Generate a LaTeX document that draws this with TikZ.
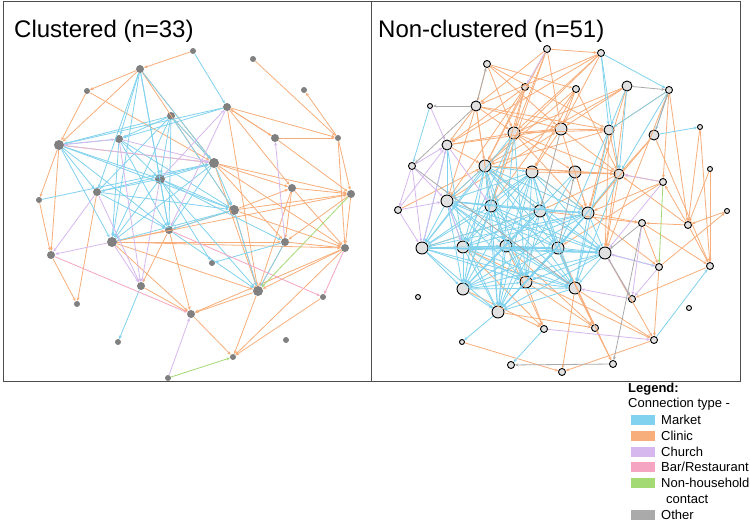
\documentclass[tikz,border=0pt]{standalone}
\usepackage{fontspec}
\setmainfont{Liberation Sans}
\usetikzlibrary{arrows.meta}
\definecolor{cmk}{RGB}{128,210,238}
\definecolor{ccl}{RGB}{248,174,122}
\definecolor{cch}{RGB}{214,184,238}
\definecolor{cbr}{RGB}{245,165,194}
\definecolor{cnh}{RGB}{164,218,116}
\definecolor{cot}{RGB}{170,170,170}
\definecolor{ngray}{RGB}{128,128,128}
\definecolor{nlight}{RGB}{225,225,225}
\tikzset{
  edge/.style={line width=0.8pt,-{Stealth[length=3.5pt,width=3pt]}},
  mk/.style={edge,draw=cmk},
  cl/.style={edge,draw=ccl},
  ch/.style={edge,draw=cch},
  br/.style={edge,draw=cbr},
  nh/.style={edge,draw=cnh},
  ot/.style={edge,draw=cot},
  lnode/.style={circle,fill=ngray,inner sep=0pt,minimum size=#1},
  lL/.style={lnode=10pt}, lM/.style={lnode=8pt}, lS/.style={lnode=6pt},
  rnode/.style={circle,fill=nlight,draw=black,line width=0.9pt,inner sep=0pt,minimum size=#1},
  rL/.style={rnode=12pt}, rM/.style={rnode=10pt}, rS/.style={rnode=7pt}, rT/.style={rnode=5pt},
  panel/.style={draw=black!70,line width=0.8pt},
  title/.style={anchor=west,font=\fontsize{24}{28}\selectfont,inner sep=0pt},
  legtxt/.style={anchor=west,font=\fontsize{13}{15}\selectfont,inner sep=0pt},
  swatch/.style={minimum width=24pt,minimum height=10pt,inner sep=0pt,fill=#1}
}
\begin{document}
\begin{tikzpicture}[x=1pt,y=-1pt]
\useasboundingbox (0,0) rectangle (750,521);
\fill[white] (0,0) rectangle (750,521);
% panels
\draw[panel] (3,1) rectangle (371,381);
\draw[panel] (371,1) rectangle (740,381);
\node[title] (t1) at (14,31) {Clustered (n=33)};
\node[title] (t2) at (378,31) {Non-clustered (n=51)};
% ---------- left nodes
\node[lS] (L1) at (193,51) {};
\node[lS] (L2) at (253,59) {};
\node[lM] (L3) at (140,69) {};
\node[lS] (L4) at (87,91) {};
\node[lS] (L5) at (304,90) {};
\node[lM] (L6) at (227,107) {};
\node[lM] (L7) at (171,116) {};
\node[lM] (L8) at (119,139) {};
\node[lM] (L9) at (275,138) {};
\node[lS] (L10) at (338,138) {};
\node[lL] (L11) at (59,145) {};
\node[lL] (L12) at (214,163) {};
\node[lL] (L13) at (160,179) {};
\node[lS] (L14) at (39,200) {};
\node[lM] (L15) at (97,192) {};
\node[lM] (L16) at (292,188) {};
\node[lM] (L17) at (351,194) {};
\node[lL] (L18) at (234,210) {};
\node[lM] (L19) at (169,230) {};
\node[lL] (L20) at (112,242) {};
\node[lM] (L21) at (285,242) {};
\node[lM] (L22) at (345,248) {};
\node[lM] (L23) at (51,255) {};
\node[lS] (L24) at (212,263) {};
\node[lM] (L25) at (141,286) {};
\node[lL] (L26) at (258,291) {};
\node[lS] (L27) at (323,297) {};
\node[lS] (L28) at (77,304) {};
\node[lM] (L29) at (191,314) {};
\node[lS] (L30) at (118,342) {};
\node[lS] (L31) at (286,340) {};
\node[lS] (L32) at (233,357) {};
\node[lS] (L33) at (168,378) {};
% left edges
\foreach \u/\v in {L1/L3,L2/L10,L10/L5,L3/L4,L3/L11,L4/L11,L3/L12,L4/L12,L6/L9,L9/L6,L6/L10,L9/L10,L6/L26,L12/L16,L12/L17,L12/L22,L12/L21,L12/L26,L11/L14,L14/L23,L11/L23,L23/L28,L15/L28,L11/L12,L20/L19,L20/L21,L20/L26,L20/L29,L20/L22,L19/L29,L19/L25,L18/L16,L18/L17,L18/L26,L18/L22,L16/L21,L16/L17,L16/L22,L16/L26,L17/L22,L17/L21,L21/L22,L21/L26,L22/L26,L22/L29,L22/L32,L26/L29,L26/L32,L29/L32,L25/L29,L27/L32,L9/L17,L10/L17,L10/L22,L6/L16,L7/L12,L3/L18,L19/L18,L20/L17}
  \draw[cl] (\u) -- (\v);
\foreach \u/\v in {L1/L6,L3/L8,L3/L15,L3/L19,L3/L20,L3/L13,L3/L12,L7/L8,L7/L11,L7/L13,L7/L15,L7/L19,L7/L20,L7/L18,L7/L12,L8/L11,L8/L13,L8/L19,L8/L20,L8/L18,L11/L13,L11/L15,L11/L20,L11/L19,L11/L18,L13/L15,L13/L18,L13/L19,L13/L20,L13/L12,L13/L24,L15/L18,L15/L19,L15/L12,L12/L20,L12/L19,L12/L18,L18/L20,L18/L19,L18/L26,L6/L8,L6/L11,L14/L12,L21/L24,L21/L26,L25/L30,L19/L26,L13/L26,L13/L21}
  \draw[mk] (\u) -- (\v);
\foreach \u/\v in {L11/L8,L11/L12,L8/L12,L13/L6,L21/L9,L15/L23,L20/L23,L13/L25,L20/L25,L33/L29,L8/L25,L15/L25,L6/L19}
  \draw[ch] (\u) -- (\v);
\foreach \u/\v in {L23/L29,L19/L27,L22/L27}
  \draw[br] (\u) -- (\v);
\foreach \u/\v in {L17/L26,L33/L32}
  \draw[nh] (\u) -- (\v);
% ---------- right nodes
\node[rS] (a1) at (547,49) {};
\node[rS] (a2) at (601,53) {};
\node[rS] (a3) at (487,64) {};
\node[rS] (a4) at (525,87) {};
\node[rS] (a5) at (576,89) {};
\node[rM] (a6) at (627,86) {};
\node[rS] (a7) at (669,90) {};
\node[rT] (a8) at (430,106) {};
\node[rM] (a9) at (476,106) {};
\node[rT] (a10) at (700,127) {};
\node[rL] (a11) at (514,133) {};
\node[rL] (a12) at (561,129) {};
\node[rM] (a13) at (609,130) {};
\node[rM] (a14) at (654,135) {};
\node[rM] (a15) at (447,145) {};
\node[rS] (a16) at (412,166) {};
\node[rL] (a17) at (485,166) {};
\node[rL] (a18) at (532,172) {};
\node[rL] (a19) at (575,172) {};
\node[rM] (a20) at (619,174) {};
\node[rT] (a21) at (710,169) {};
\node[rS] (a22) at (663,182) {};
\node[rL] (a23) at (447,201) {};
\node[rS] (a24) at (398,210) {};
\node[rL] (a25) at (491,206) {};
\node[rL] (a26) at (540,211) {};
\node[rL] (a27) at (588,213) {};
\node[rS] (a28) at (642,223) {};
\node[rS] (a29) at (688,225) {};
\node[rT] (a30) at (727,211) {};
\node[rL] (a31) at (422,248) {};
\node[rL] (a32) at (463,247) {};
\node[rL] (a33) at (506,246) {};
\node[rL] (a34) at (558,248) {};
\node[rL] (a35) at (605,253) {};
\node[rS] (a36) at (659,267) {};
\node[rS] (a37) at (710,266) {};
\node[rL] (a38) at (463,289) {};
\node[rL] (a39) at (526,282) {};
\node[rL] (a40) at (575,288) {};
\node[rS] (a41) at (632,299) {};
\node[rT] (a42) at (418,297) {};
\node[rT] (a43) at (689,308) {};
\node[rL] (a44) at (498,312) {};
\node[rS] (a45) at (544,329) {};
\node[rS] (a46) at (595,328) {};
\node[rS] (a47) at (654,340) {};
\node[rT] (a48) at (462,342) {};
\node[rS] (a49) at (511,365) {};
\node[rS] (a50) at (562,372) {};
\node[rS] (a51) at (613,364) {};
% right edges
\foreach \u/\v in {a1/a2,a1/a9,a1/a11,a1/a17,a1/a12,a1/a25,a2/a11,a2/a12,a2/a17,a2/a9,a2/a15,a3/a9,a3/a11,a3/a12,a3/a13,a3/a5,a4/a17,a4/a11,a4/a25,a4/a23,a4/a15,a5/a12,a5/a17,a5/a18,a5/a20,a5/a25,a6/a11,a6/a17,a6/a12,a6/a27,a6/a35,a7/a22,a7/a35,a7/a29,a7/a13,a10/a29,a10/a37,a21/a29,a21/a37,a29/a37,a29/a22,a30/a29,a29/a28,a29/a20,a22/a27,a22/a20,a22/a34,a14/a37,a14/a20,a14/a27,a9/a15,a9/a11,a9/a17,a9/a25,a9/a12,a9/a13,a9/a23,a11/a12,a11/a13,a11/a19,a11/a20,a11/a27,a12/a13,a12/a20,a12/a27,a12/a18,a13/a20,a13/a27,a13/a35,a13/a17,a15/a11,a15/a12,a15/a17,a17/a20,a17/a19,a17/a26,a18/a20,a18/a27,a19/a20,a19/a27,a20/a35,a20/a27,a20/a26,a26/a28,a27/a28,a27/a36,a23/a17,a23/a12,a24/a17,a32/a45,a39/a45,a39/a46,a40/a46,a40/a50,a40/a47,a44/a46,a46/a51,a47/a50,a48/a50,a32/a47,a33/a46,a34/a51,a36/a47,a28/a37,a28/a36,a36/a30,a37/a41,a35/a47,a34/a46,a33/a45,a38/a45,a31/a26}
  \draw[cl] (\u) -- (\v);
\def\cyanlist{a17,a18,a23,a25,a26,a27,a31,a32,a33,a34,a35,a38,a39,a40,a44}
\foreach \u [count=\i] in \cyanlist {
  \foreach \v [count=\j] in \cyanlist {
    \ifnum\j>\i \draw[mk] (\u) -- (\v); \fi
  }
}
\foreach \u/\v in {a11/a31,a11/a32,a11/a38,a11/a44,a11/a39,a15/a31,a15/a32,a15/a23,a8/a16,a2/a7,a2/a13,a2/a20,a7/a14,a7/a20,a7/a13,a6/a13,a6/a20,a14/a10,a13/a34,a13/a40,a20/a40,a20/a34,a35/a36,a44/a48,a45/a49,a47/a37,a19/a44,a19/a38,a27/a44}
  \draw[mk] (\u) -- (\v);
\foreach \u/\v in {a1/a4,a24/a15,a24/a31,a24/a23,a16/a31,a16/a23,a16/a15,a15/a25,a23/a32,a31/a15,a45/a47,a36/a41,a41/a35,a41/a40,a36/a35,a22/a20,a22/a35,a28/a41,a8/a15,a16/a24}
  \draw[ch] (\u) -- (\v);
\foreach \u/\v in {a6/a7,a9/a8,a9/a16,a9/a3,a14/a7,a35/a41,a28/a35,a28/a51,a51/a49,a16/a40,a34/a19,a12/a26}
  \draw[ot] (\u) -- (\v);
\draw[nh] (a22) -- (a36);
% ---------- legend
\node[anchor=west,inner sep=0pt,font=\fontsize{13}{15}\selectfont\bfseries] (lg) at (628,389) {Legend:};
\node[legtxt] (lgc) at (628,404) {Connection type -};
\node[swatch=cmk] (s1) at (643,420) {}; \node[legtxt] (x1) at (661,420) {Market};
\node[swatch=ccl] (s2) at (643,436) {}; \node[legtxt] (x2) at (661,436) {Clinic};
\node[swatch=cch] (s3) at (643,452) {}; \node[legtxt] (x3) at (661,452) {Church};
\node[swatch=cbr] (s4) at (643,467) {}; \node[legtxt] (x4) at (661,467) {Bar/Restaurant};
\node[swatch=cnh] (s5) at (643,483) {}; \node[legtxt] (x5) at (661,483) {Non-household};
\node[legtxt] (x5b) at (666,499) {contact};
\node[swatch=cot] (s6) at (643,515) {}; \node[legtxt] (x6) at (661,515) {Other};
\end{tikzpicture}
\end{document}
